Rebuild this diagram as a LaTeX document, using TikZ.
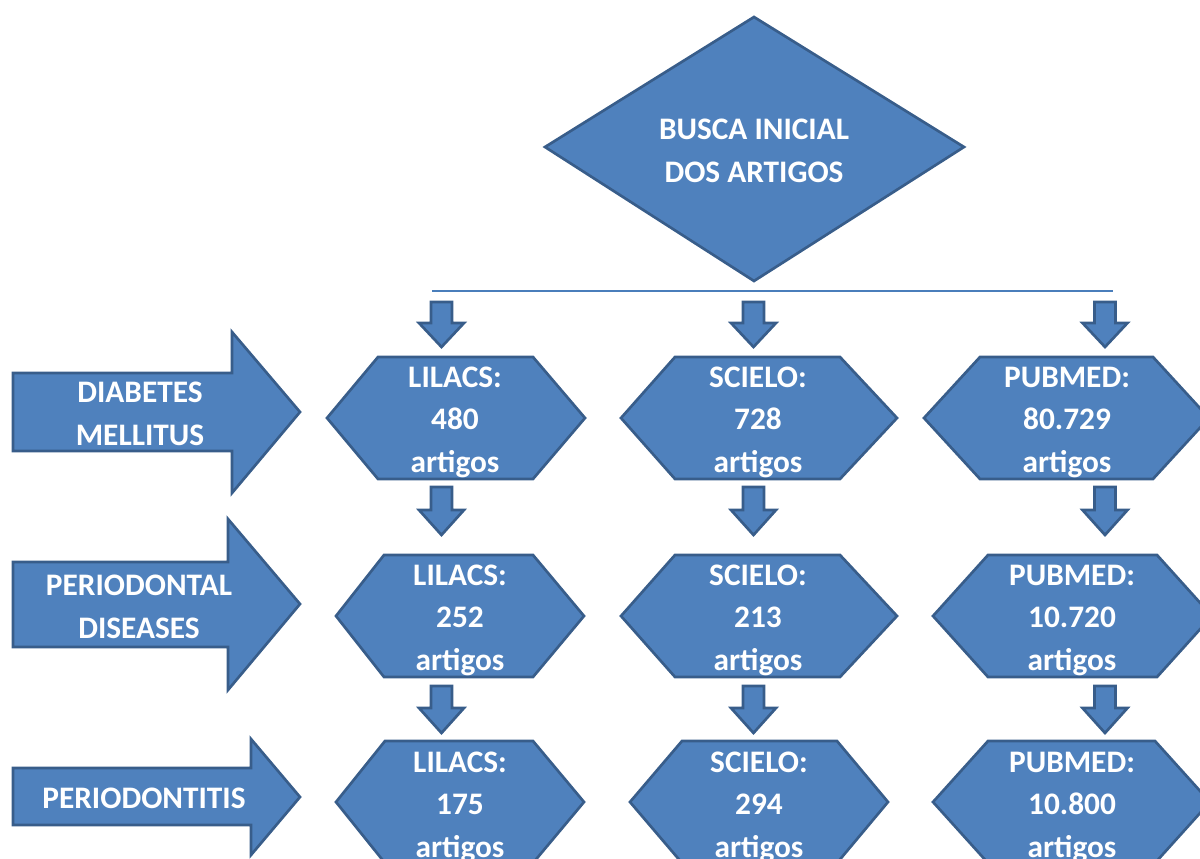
\documentclass[tikz,border=0pt]{standalone}
\usepackage{fontspec}
\setmainfont{Carlito}
\definecolor{boxfill}{HTML}{4F81BD}
\definecolor{boxline}{HTML}{385D8A}
\definecolor{rulecol}{HTML}{4A7EBB}
\newcommand{\hexa}[7]{%
  \draw[shapebox] (#1,#6) -- (#2,#5) -- (#3,#5) -- (#4,#6) -- (#3,#7) -- (#2,#7) -- cycle;}
\newcommand{\blockdown}[4]{%
  \draw[shapebox] (#1-10.5,#2) -- (#1+10.5,#2) -- (#1+10.5,#3) -- (#1+22.5,#3) -- (#1,#4)
    -- (#1-22.5,#3) -- (#1-10.5,#3) -- cycle;}
\newcommand{\blockright}[8]{%
  \draw[shapebox] (#1,#2) -- (#4,#2) -- (#4,#5) -- (#7,#8) -- (#4,#6) -- (#4,#3) -- (#1,#3) -- cycle;}
\tikzset{
  shapebox/.style={fill=boxfill, draw=boxline, line width=2pt, line join=miter},
  lbl/.style={text=white, font=\fontsize{23.5}{31.8}\selectfont\bfseries, align=center, anchor=base, inner sep=0pt},
  biglbl/.style={lbl, font=\fontsize{23.5}{32.3}\selectfont\bfseries},
}
\begin{document}
\begin{tikzpicture}[x=0.75pt, y=-0.75pt]
\useasboundingbox (0,0) rectangle (1200,859);
\clip (0,0) rectangle (1200,859);

% top diamond
\draw[shapebox] (754,17) -- (964,147) -- (754,281) -- (545,147) -- cycle;
\node[biglbl] (busca) at (754,183) {BUSCA INICIAL\\DOS ARTIGOS};

% horizontal rule
\coordinate (ruleL) at (432,291);
\coordinate (ruleR) at (1113,291);
\draw[rulecol, line width=1.4pt] (ruleL) -- (ruleR);

% small down arrows
\blockdown{441.5}{302}{323}{347}
\blockdown{753.5}{302}{323}{347}
\blockdown{1105}{302}{323}{347}
\blockdown{441.5}{487}{510}{535}
\blockdown{753.5}{487}{510}{535}
\blockdown{1105}{487}{510}{535}
\blockdown{441.5}{686}{708}{733}
\blockdown{753.5}{686}{708}{733}
\blockdown{1105}{686}{708}{733}

% hexagons row 1
\hexa{327}{378}{533}{585}{357}{418}{479}
\hexa{621}{675}{840}{897}{357}{418}{479}
\hexa{924}{980}{1153}{1209}{357}{418}{479}
% row 2
\hexa{336}{384}{533}{584}{555}{616}{677}
\hexa{621}{675}{840}{897}{555}{616}{677}
\hexa{933}{988}{1157}{1212}{555}{616}{677}
% row 3
\hexa{336}{385}{533}{584}{741}{802}{863}
\hexa{630}{682}{837}{888}{741}{802}{863}
\hexa{933}{988}{1155}{1210}{741}{802}{863}

\node[lbl] (lil1) at (455,472) {LILACS:\\480\\artigos};
\node[lbl] (sci1) at (758,472) {SCIELO:\\728\\artigos};
\node[lbl] (pub1) at (1067,472) {PUBMED:\\80.729\\artigos};
\node[lbl] (lil2) at (460,670) {LILACS:\\252\\artigos};
\node[lbl] (sci2) at (758,670) {SCIELO:\\213\\artigos};
\node[lbl] (pub2) at (1072,670) {PUBMED:\\10.720\\artigos};
\node[lbl] (lil3) at (460,857) {LILACS:\\175\\artigos};
\node[lbl] (sci3) at (759,857) {SCIELO:\\294\\artigos};
\node[lbl] (pub3) at (1072,857) {PUBMED:\\10.800\\artigos};

% left block arrows
\blockright{13}{373}{451}{232}{332}{493}{300}{412}
\blockright{13}{562}{647}{228}{519}{690}{300}{604}
\blockright{13}{768}{825}{251}{739}{855}{300}{797}
\node[lbl] (dm) at (140,445) {DIABETES\\MELLITUS};
\node[lbl] (pd) at (139,638) {PERIODONTAL\\DISEASES};
\node[lbl] (pt) at (144,808) {PERIODONTITIS};
\end{tikzpicture}
\end{document}
